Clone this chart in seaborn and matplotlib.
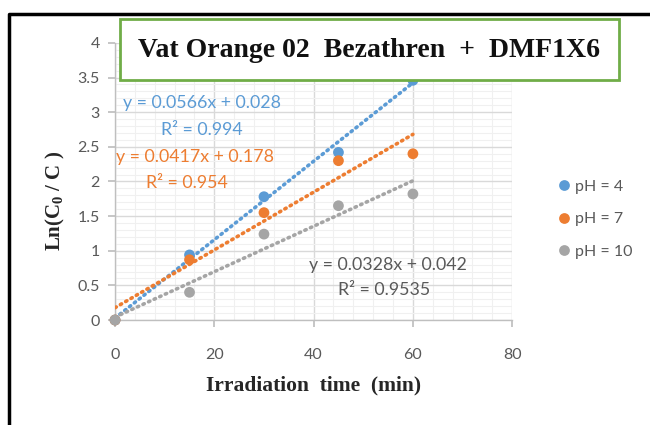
import seaborn as sns
import matplotlib.pyplot as plt
import pandas as pd
from matplotlib.patches import Rectangle
from matplotlib.lines import Line2D
from matplotlib.ticker import MultipleLocator

sns.set_theme(style="white")
plt.rcParams['font.family'] = ['Lato', 'DejaVu Sans']
plt.rcParams['mathtext.fontset'] = 'custom'
plt.rcParams['mathtext.rm'] = 'Liberation Serif:bold'
plt.rcParams['mathtext.bf'] = 'Liberation Serif:bold'

# 数据
time_min = [0, 15, 30, 45, 60]
ph4 = [0, 0.94, 1.78, 2.42, 3.46]
ph7 = [0, 0.87, 1.55, 2.30, 2.40]
ph10 = [0, 0.40, 1.24, 1.65, 1.82]
labels = ["pH = 4", "pH = 7", "pH = 10"]
slopes = [0.0566, 0.0417, 0.0328]
intercepts = [0.028, 0.178, 0.042]
eq_texts = ["y = 0.0566x + 0.028", "y = 0.0417x + 0.178", "y = 0.0328x + 0.042"]
r2_texts = ["R² = 0.994", "R² = 0.954", "R² = 0.9535"]
colors = ["#5B9BD5", "#ED7D31", "#A5A5A5"]

df = pd.DataFrame({
    "time": time_min * 3,
    "lnC": ph4 + ph7 + ph10,
    "pH": [labels[0]] * 5 + [labels[1]] * 5 + [labels[2]] * 5,
})

fig = plt.figure(figsize=(6.5, 4.25), dpi=100)
ax = fig.add_axes([0.177, 0.247, 0.611, 0.652])

# 趋势线（点线）
for i in range(3):
    xs = [time_min[0], time_min[-1]]
    ys = [slopes[i] * x + intercepts[i] for x in xs]
    ax.plot(xs, ys, color=colors[i], lw=2.6, linestyle=(0, (0.4, 1.3)),
            dash_capstyle='round', zorder=3)

sns.scatterplot(data=df, x="time", y="lnC", hue="pH", palette=colors,
                s=60, edgecolor="none", ax=ax, zorder=4, clip_on=False)

ax.set_xlim(0, 80)
ax.set_ylim(0, 4)
ax.xaxis.set_major_locator(MultipleLocator(20))
ax.xaxis.set_minor_locator(MultipleLocator(4))
ax.yaxis.set_major_locator(MultipleLocator(0.5))
ax.yaxis.set_minor_locator(MultipleLocator(0.1))
ax.grid(which='major', color='#D9D9D9', lw=1)
ax.grid(which='minor', color='#F0F0F0', lw=0.8)
ax.set_axisbelow(True)
for s in ['top', 'right']:
    ax.spines[s].set_visible(False)
for s in ['left', 'bottom']:
    ax.spines[s].set_color('#BFBFBF')
    ax.spines[s].set_linewidth(1)
ax.tick_params(which='major', direction='out', length=5, color='#BFBFBF',
               labelcolor='#595959', labelsize=11.5, left=True, bottom=True, pad=6)
ax.tick_params(axis='x', which='major', pad=15)
ax.tick_params(which='minor', length=0)
ax.set_yticks([0, 0.5, 1, 1.5, 2, 2.5, 3, 3.5, 4])
ax.set_yticklabels(["0", "0.5", "1", "1.5", "2", "2.5", "3", "3.5", "4"])

ax.set_xlabel("Irradiation  time  (min)", family='Liberation Serif',
              weight='bold', fontsize=15.5, color='#262626', labelpad=10)
ax.set_ylabel(r"Ln(C$_{0}$ / C )", family='Liberation Serif',
              weight='bold', fontsize=15, color='#262626')
ax.yaxis.set_label_coords(-0.12, 0.43)

# 方程注释
eq_pos = [(17.5, 3.13), (16.1, 2.35), (55.0, 0.79)]
r2_pos = [(17.5, 2.74), (14.5, 1.98), (54.2, 0.43)]
for i in range(3):
    c = colors[i] if i < 2 else '#595959'
    ax.text(eq_pos[i][0], eq_pos[i][1], eq_texts[i], color=c,
            fontsize=12.8, ha='center', va='center', zorder=5)
    ax.text(r2_pos[i][0], r2_pos[i][1], r2_texts[i], color=c,
            fontsize=12.8, ha='center', va='center', zorder=5)

ax.legend(loc='center left', bbox_to_anchor=(0.838, 0.484), bbox_transform=fig.transFigure,
          frameon=False, fontsize=11.5, labelspacing=1.15, handlelength=0.6,
          handletextpad=0.4, labelcolor='#595959')

# 标题框
fig.add_artist(Rectangle((0.1846, 0.8118), 0.7677, 0.1435, transform=fig.transFigure,
                         facecolor='white', edgecolor='#70AD47', lw=2, zorder=5))
fig.text(0.568, 0.882, "Vat Orange 02  Bezathren  +  DMF1X6", family='Liberation Serif',
         weight='bold', fontsize=20, ha='center', va='center', color='#111111', zorder=6)

# 外框
fig.add_artist(Line2D([0.0138, 0.0138, 1.0], [0.0, 0.967, 0.967], transform=fig.transFigure,
                      color='black', lw=2.5, zorder=6))

plt.savefig("out.png", dpi=100)
